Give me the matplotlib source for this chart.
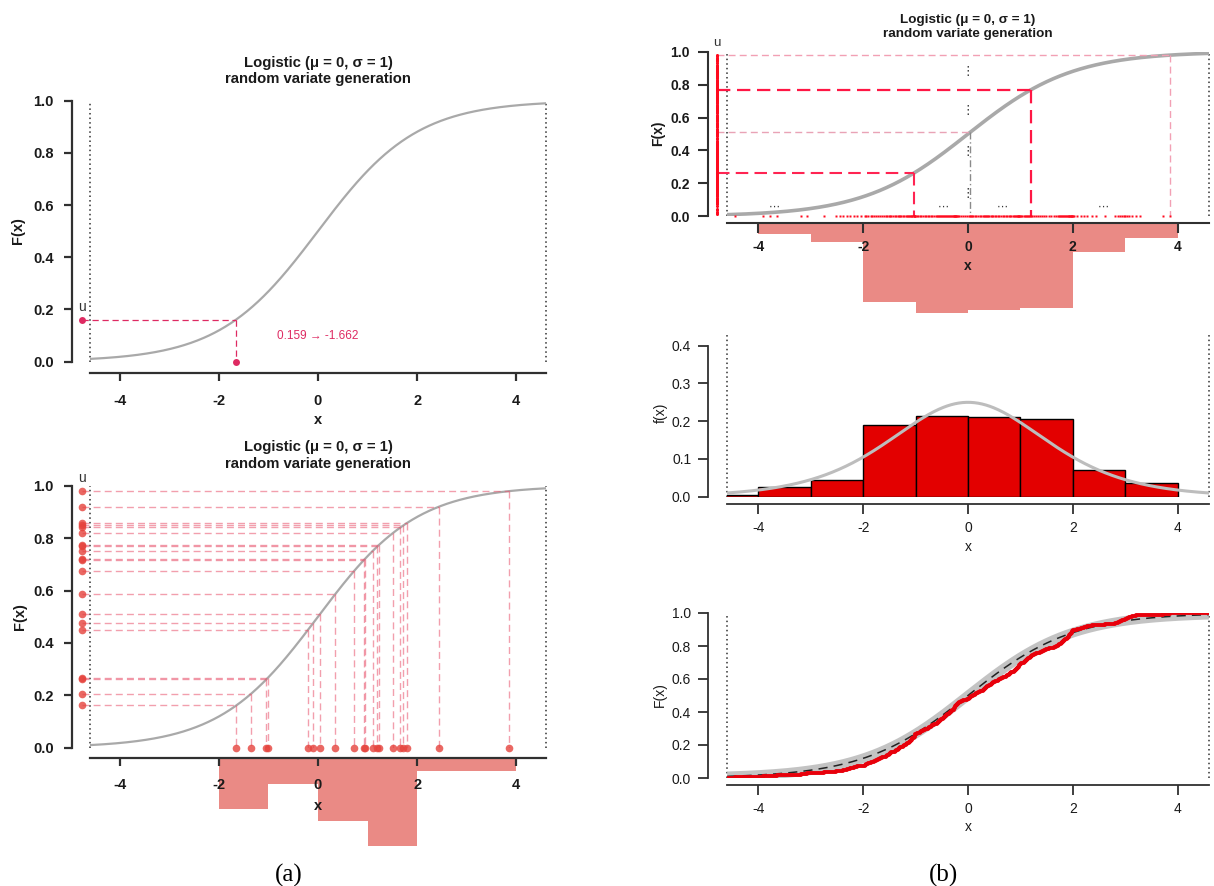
import numpy as np
import matplotlib
matplotlib.use("Agg")
import matplotlib.pyplot as plt

plt.rcParams['font.family'] = ['Liberation Sans', 'DejaVu Sans']

# ---------------- data ----------------
x_ticks = [-4, -2, 0, 2, 4]
F_ticks = [0.0, 0.2, 0.4, 0.6, 0.8, 1.0]
f_ticks = [0.0, 0.1, 0.2, 0.3, 0.4]
title_text = "Logistic (\u03bc = 0, \u03c3 = 1)\nrandom variate generation"
mu, sigma = 0.0, 1.0
x_lo, x_hi = -4.595, 4.595          # 1% and 99% quantiles of the logistic

# panel (a) top: one variate
one_u = 0.159
one_x = -1.662
one_label = "0.159 \u2192 -1.662"

# panel (a) bottom: twenty variates (x positions)
a_x = [-1.648, -1.346, -1.044, -1.010, -0.209, -0.093, 0.039, 0.348, 0.735,
       0.928, 0.944, 1.106, 1.199, 1.222, 1.509, 1.663, 1.725, 1.803, 2.437, 3.845]

hist_breaks = [-5, -4, -3, -2, -1, 0, 1, 2, 3, 4]

# panel (b): 200 variates (estimated from rug, histogram and ECDF)
sample_x = [
    -4.45,
    -3.92, -3.78, -3.65, -3.18, -3.07,
    -2.74, -2.52, -2.45, -2.38, -2.31, -2.26, -2.18, -2.12, -2.05,
    -1.97, -1.94, -1.90, -1.86, -1.83, -1.79, -1.75, -1.71, -1.68, -1.64, -1.61,
    -1.57, -1.54, -1.51, -1.48, -1.46, -1.43, -1.40, -1.37, -1.34, -1.32, -1.29,
    -1.27, -1.24, -1.22, -1.19, -1.17, -1.15, -1.13, -1.11, -1.09, -1.07, -1.06,
    -1.04, -1.03, -1.02, -1.01, -1.005,
    -0.98, -0.95, -0.92, -0.89, -0.86, -0.83, -0.80, -0.77, -0.74, -0.71, -0.68,
    -0.65, -0.62, -0.60, -0.58, -0.56, -0.54, -0.52, -0.50, -0.48, -0.46, -0.44,
    -0.42, -0.40, -0.38, -0.36, -0.34, -0.32, -0.30, -0.28, -0.27, -0.26, -0.25,
    -0.24, -0.23, -0.22, -0.21, -0.20, -0.17, -0.13, -0.09, -0.05, -0.02,
    0.01, 0.03, 0.05, 0.08, 0.10, 0.13, 0.16, 0.19, 0.22, 0.25, 0.28, 0.31, 0.33,
    0.35, 0.37, 0.39, 0.41, 0.43, 0.45, 0.48, 0.51, 0.54, 0.57, 0.60, 0.63, 0.66,
    0.69, 0.72, 0.75, 0.78, 0.80, 0.83, 0.85, 0.87, 0.89, 0.91, 0.93, 0.95, 0.96,
    0.97, 0.98, 0.99,
    1.02, 1.04, 1.06, 1.08, 1.10, 1.12, 1.14, 1.16, 1.18, 1.20, 1.22, 1.25, 1.29,
    1.33, 1.37, 1.41, 1.45, 1.49, 1.54, 1.59, 1.64, 1.68, 1.71, 1.73, 1.75, 1.77,
    1.79, 1.81, 1.83, 1.85, 1.87, 1.88, 1.90, 1.92, 1.93, 1.95, 1.96, 1.97, 1.98,
    1.99, 1.995,
    2.03, 2.08, 2.15, 2.21, 2.27, 2.36, 2.45, 2.62, 2.81, 2.86, 2.90, 2.94, 2.97, 2.99,
    3.04, 3.08, 3.13, 3.20, 3.28, 3.72, 3.86,
]

# highlighted variates in panel (b) top
hl_x = [3.86, 1.20, 0.04, -1.04]
dots_h_x = [-3.7, -0.48, 0.65, 2.58]
dots_v_F = [0.88, 0.645, 0.395, 0.14]


def cdf(x):
    return 1.0 / (1.0 + np.exp(-(np.asarray(x) - mu) / sigma))


def pdf(x):
    e = np.exp(-(np.asarray(x) - mu) / sigma)
    return e / (sigma * (1 + e) ** 2)


# ---------------- figure / layout helpers ----------------
W, H, DPI = 1214, 886, 100
fig = plt.figure(figsize=(W / DPI, H / DPI), dpi=DPI)
fig.patch.set_facecolor('white')
PT = 72.0 / DPI


def fx(px):
    return px / W


def fy(py):
    return 1 - py / H


def axes_px(left, top, right, bottom, z=2):
    ax = fig.add_axes([fx(left), fy(bottom), (right - left) / W, (bottom - top) / H])
    ax.set_zorder(z)
    ax.patch.set_visible(False)
    return ax


def style(ax, yticks, ytop, left_off, bottom_off, tick_len, xpad, ypad,
          size, weight, lw):
    ax.set_xlim(x_lo, x_hi)
    for s in ['top', 'right']:
        ax.spines[s].set_visible(False)
    ax.spines['left'].set_position(('outward', left_off * PT))
    ax.spines['bottom'].set_position(('outward', bottom_off * PT))
    ax.spines['left'].set_bounds(yticks[0], ytop)
    ax.spines['bottom'].set_bounds(x_lo, x_hi)
    for s in ['left', 'bottom']:
        ax.spines[s].set_linewidth(lw)
        ax.spines[s].set_color('#303030')
    ax.set_xticks(x_ticks)
    ax.set_xticklabels([str(t) for t in x_ticks])
    ax.set_yticks(yticks)
    ax.set_yticklabels([f"{t:.1f}" for t in yticks])
    ax.tick_params(axis='both', direction='out', length=tick_len * PT,
                   width=lw, color='#303030', labelsize=size, labelcolor='#1a1a1a')
    ax.tick_params(axis='x', pad=xpad * PT)
    ax.tick_params(axis='y', pad=ypad * PT)
    for lab in ax.get_xticklabels() + ax.get_yticklabels():
        lab.set_fontweight(weight)


def labels(ax, ylab, xpos, ypos, size, weight):
    ax.set_xlabel('x', fontsize=size, fontweight=weight, color='#1a1a1a')
    ax.set_ylabel(ylab, fontsize=size, fontweight=weight, color='#1a1a1a')
    ax.xaxis.set_label_coords(fx(xpos[0]), fy(xpos[1]), transform=fig.transFigure)
    ax.xaxis.label.set_verticalalignment('center')
    ax.yaxis.set_label_coords(fx(ypos[0]), fy(ypos[1]), transform=fig.transFigure)
    ax.yaxis.label.set_verticalalignment('center')


def title(ax, y_axes, size):
    t = ax.set_title(title_text, fontsize=size, fontweight='bold', y=y_axes,
                     pad=0, va='center', linespacing=1.2, color='#1a1a1a')
    return t


def edge_lines(ax, top):
    for xv in (x_lo, x_hi):
        ax.plot([xv, xv], [0, top], color='#303030', lw=1.1,
                ls=(0, (1, 2)), clip_on=False, zorder=1)


xs = np.linspace(x_lo, x_hi, 500)
GREY = '#A9A9A9'
CRIM = '#DE2A62'
HIST_C = '#EA8A85'

# ================= panel (a) top =================
A_L, A_R = 318 - 4.595 * 49.55, 318 + 4.595 * 49.55
ax1 = axes_px(A_L, 100.7, A_R, 361.5)
ax1.set_ylim(0, 1)
style(ax1, F_ticks, 1.0, 18.3, 11.8, 8.4, 12, 10, 10.5, 'bold', 1.6)
labels(ax1, 'F(x)', (318, 420), (18, 231), 10.5, 'bold')
title(ax1, 1 + (100.7 - 70.9) / 260.8, 10.7)
edge_lines(ax1, 1.0)
ax1.plot(xs, cdf(xs), color=GREY, lw=1.6, zorder=2)
u_x_a = -4.763
ax1.plot([u_x_a, one_x], [one_u, one_u], color=CRIM, lw=0.9, ls=(0, (5, 3)),
         clip_on=False, zorder=3)
ax1.plot([one_x, one_x], [one_u, 0], color=CRIM, lw=0.9, ls=(0, (5, 3)), zorder=3)
ax1.plot([u_x_a], [one_u], 'o', color=CRIM, ms=5, mec='none', clip_on=False, zorder=4)
ax1.plot([one_x], [0], 'o', color=CRIM, ms=5, mec='none', clip_on=False, zorder=4)
ax1.text(u_x_a, 0.209, 'u', ha='center', va='center', fontsize=10, color='#333333')
ax1.text(0, 0.096, one_label, ha='center', va='center', fontsize=8.5, color=CRIM)

# ================= panel (a) bottom =================
ax2 = axes_px(A_L, 485.7, A_R, 747.7)
ax2.set_ylim(0, 1)
style(ax2, F_ticks, 1.0, 18.3, 10.3, 8.4, 12, 10, 10.5, 'bold', 1.6)
labels(ax2, 'F(x)', (318, 806), (20, 617), 10.5, 'bold')
title(ax2, 1 + (485.7 - 455.5) / 262.0, 10.7)
edge_lines(ax2, 1.0)
ax2.plot(xs, cdf(xs), color=GREY, lw=1.6, zorder=2)
a_u = cdf(a_x)
for xv, uv in zip(a_x, a_u):
    ax2.plot([u_x_a, xv], [uv, uv], color='#E8506A', lw=1.0, alpha=0.55,
             ls=(0, (5, 3)), clip_on=False, zorder=3)
    ax2.plot([xv, xv], [uv, 0], color='#E8506A', lw=1.0, alpha=0.55,
             ls=(0, (5, 3)), zorder=3)
ax2.plot(np.full(len(a_x), u_x_a), a_u, 'o', color='#E5423C', alpha=0.8, ms=5.5,
         mec='none', ls='none', clip_on=False, zorder=4)
ax2.plot(a_x, np.zeros(len(a_x)), 'o', color='#E5423C', alpha=0.8, ms=5.5,
         mec='none', ls='none', clip_on=False, zorder=4)
ax2.text(u_x_a, 1.03, 'u', ha='center', va='center', fontsize=10, color='#333333')

# histogram hanging below axis (a)
h2 = axes_px(A_L, 758.5, A_R, 758.5 + 100, z=1)
h2.set_xlim(x_lo, x_hi)
h2.set_ylim(100 / 12.5, 0)
h2.hist(a_x, bins=hist_breaks, color=HIST_C, edgecolor='none')
h2.axis('off')

# ================= panel (b) common =================
B_L, B_R = 968 - 4.595 * 52.4, 968 + 4.595 * 52.4

# ---- (b) top ----
ax3 = axes_px(B_L, 51.7, B_R, 216.3)
ax3.set_ylim(0, 1)
style(ax3, F_ticks, 1.0, 19.2, 6.4, 10, 7.5, 8, 10, 'bold', 1.5)
labels(ax3, 'F(x)', (968, 266), (658, 133), 10, 'bold')
title(ax3, 1 + (51.7 - 27.2) / 164.6, 9.7)
edge_lines(ax3, 1.0)
ax3.plot(xs, cdf(xs), color=GREY, lw=2.6, zorder=2)
u_x_b = -4.79
s_u = cdf(sample_x)
hl_styles = [
    dict(h=dict(color='#F2A0B4', lw=1.0, ls=(0, (5, 3))), v=dict(color='#F2A0B4', lw=1.0, ls=(0, (5, 3)))),
    dict(h=dict(color='#FF1744', lw=1.6, ls=(0, (6, 3))), v=dict(color='#FF1744', lw=1.6, ls=(0, (6, 3)))),
    dict(h=dict(color='#E9A3B6', lw=1.0, ls=(0, (5, 3))), v=dict(color='#8A8A8A', lw=1.0, ls=(0, (5, 2, 1, 2)))),
    dict(h=dict(color='#FF2452', lw=1.5, ls=(0, (6, 3))), v=dict(color='#FF2452', lw=1.5, ls=(0, (6, 3)))),
]
for xv, st in zip(hl_x, hl_styles):
    uv = float(cdf(xv))
    ax3.plot([u_x_b, xv], [uv, uv], clip_on=False, zorder=3, **st['h'])
    ax3.plot([xv, xv], [uv, 0], zorder=3, **st['v'])
ax3.plot(np.full(len(sample_x), u_x_b), s_u, 'o', color='#FF0A1E', ms=2.2,
         mec='none', ls='none', clip_on=False, zorder=4)
ax3.plot(sample_x, np.zeros(len(sample_x)), 's', color='#FF0A1E', ms=2.0,
         mec='none', ls='none', clip_on=False, zorder=4)
ax3.text(u_x_b, 1.055, 'u', ha='center', va='center', fontsize=9.5, color='#333333')
for xv in dots_h_x:
    ax3.text(xv, 0.057, '\u22ef', ha='center', va='center', fontsize=8,
             family='DejaVu Sans', color='#333333')
for fv in dots_v_F:
    ax3.text(0, fv, '\u22ee', ha='center', va='center', fontsize=9,
             family='DejaVu Sans', color='#333333')

h3 = axes_px(B_L, 223.5, B_R, 223.5 + 100, z=1)
h3.set_xlim(-4, x_hi)
h3.set_position([fx(968 - 4 * 52.4), fy(323.5), (B_R - (968 - 4 * 52.4)) / W, 100 / H])
h3.set_ylim(100 / 2.07, 0)
h3.hist(sample_x, bins=hist_breaks, color=HIST_C, edgecolor='none')
h3.axis('off')

# ---- (b) middle ----
ax4 = axes_px(B_L, 345.7, B_R, 496.7)
ax4.set_ylim(0, 0.4)
style(ax4, f_ticks, 0.4, 19.5, 7.3, 10, 7, 6.5, 10, 'normal', 1.3)
labels(ax4, 'f(x)', (968, 547), (661, 413), 10, 'normal')
edge_lines(ax4, 0.428)
ax4.hist(sample_x, bins=hist_breaks, density=True, color='#E30000',
         edgecolor='black', linewidth=1.0, zorder=2)
ax4.plot(xs, pdf(xs), color='#BDBDBD', lw=2.2, zorder=3)

# ---- (b) bottom ----
ax5 = axes_px(B_L, 613, B_R, 778)
ax5.set_ylim(0, 1)
style(ax5, F_ticks, 1.0, 19.5, 7, 10, 7, 6.5, 10, 'normal', 1.3)
labels(ax5, 'F(x)', (968, 827), (660, 695), 10, 'normal')
edge_lines(ax5, 1.0)
ax5.plot(xs, cdf(xs), color='#BDBDBD', lw=7, alpha=0.9, solid_capstyle='butt', zorder=2)
ax5.plot(xs, cdf(xs), color='#222222', lw=1.1, ls=(0, (6, 4)), zorder=3)
sx = np.sort(np.asarray(sample_x))
sy = np.arange(1, len(sx) + 1) / len(sx)
ax5.plot(np.concatenate([[x_lo], sx, [x_hi]]), np.concatenate([[0.0], sy, [1.0]]),
         drawstyle='steps-post', color='#E8000B', lw=2.8, zorder=4)

# ---- sub-figure captions ----
fig.text(fx(289), fy(875), '(a)', ha='center', va='center', fontsize=18,
         family='Liberation Serif')
fig.text(fx(944), fy(875), '(b)', ha='center', va='center', fontsize=18,
         family='Liberation Serif')

fig.savefig('out.png', dpi=DPI)
